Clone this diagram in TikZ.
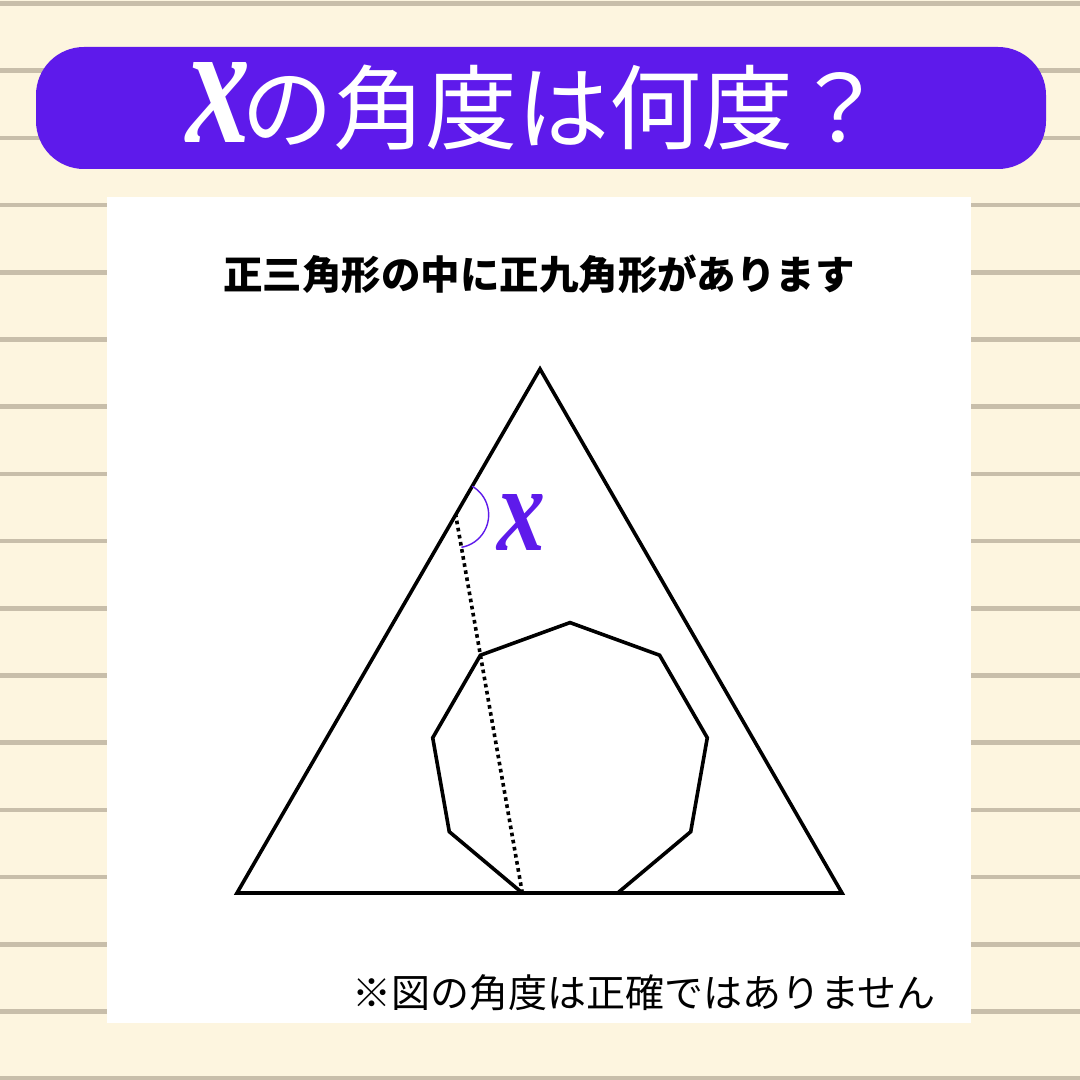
\documentclass[tikz,border=0pt]{standalone}
\usepackage{fontspec}
\usepackage{graphicx}
\newfontfamily\jp{Noto Sans CJK JP}
\newfontfamily\xfont{Liberation Serif}
\definecolor{cream}{HTML}{FDF5DF}
\definecolor{ruleline}{HTML}{C8BEAA}
\definecolor{purp}{HTML}{5E1AEB}
\tikzset{
  ruled/.style={draw=ruleline, line width=4.5pt},
  banner/.style={fill=purp, rounded corners=48pt},
  titletext/.style={text=white, inner sep=0pt, font=\jp\fontsize{92}{92}\selectfont},
  subtext/.style={text=black, inner sep=0pt, font=\jp\bfseries\fontsize{39.5}{39.5}\selectfont},
  notetext/.style={text=black, inner sep=0pt, font=\jp\fontsize{39}{39}\selectfont},
  figline/.style={draw=black, line width=3.6pt, line join=miter},
  dotline/.style={draw=black, line width=3.6pt, dash pattern=on 3.6pt off 3.6pt},
  arcline/.style={draw=purp, line width=1.4pt},
  xlab/.style={text=purp, inner sep=0pt}
}
\begin{document}
\begin{tikzpicture}[x=1pt,y=1pt]
\useasboundingbox (0,0) rectangle (1080,1080);
\fill[cream] (0,0) rectangle (1080,1080);
\foreach \k in {0,...,16} \draw[ruled] (0,1076.5-67.2*\k) -- (1080,1076.5-67.2*\k);
\fill[banner] (36,911) rectangle (1046,1033);
\node[titletext] (tx) at (218,977.5) {\resizebox*{64pt}{80pt}{\xfont\itshape\bfseries x}};
\node[titletext, anchor=west] (title) at (241,972) {の角度は何度？};
\fill[white] (107,57) rectangle (971,883);
\node[subtext] (sub) at (539,806) {正三角形の中に正九角形があります};
\node[notetext] (note) at (644,87) {※図の角度は正確ではありません};
\coordinate (A) at (540,711);
\coordinate (B) at (237,187);
\coordinate (C) at (842,187);
\coordinate (O) at (570,318);
\foreach \i in {0,...,8} \coordinate (n\i) at ([shift={(90+40*\i:139.4)}]O);
\draw[figline] (A) -- (B) -- (C) -- cycle;
\draw[figline] (n0) -- (n1) -- (n2) -- (n3) -- (n4) -- (n5) -- (n6) -- (n7) -- (n8) -- cycle;
\coordinate (P) at (intersection of n4--n1 and A--B);
\draw[dotline] (n4) -- (P);
\draw[arcline] (P) ++(60:33pt) arc[start angle=60, end angle=-80, radius=33pt];
\node[xlab] (xl) at (521,557) {\resizebox*{48pt}{56pt}{\xfont\itshape\bfseries x}};
\end{tikzpicture}
\end{document}
